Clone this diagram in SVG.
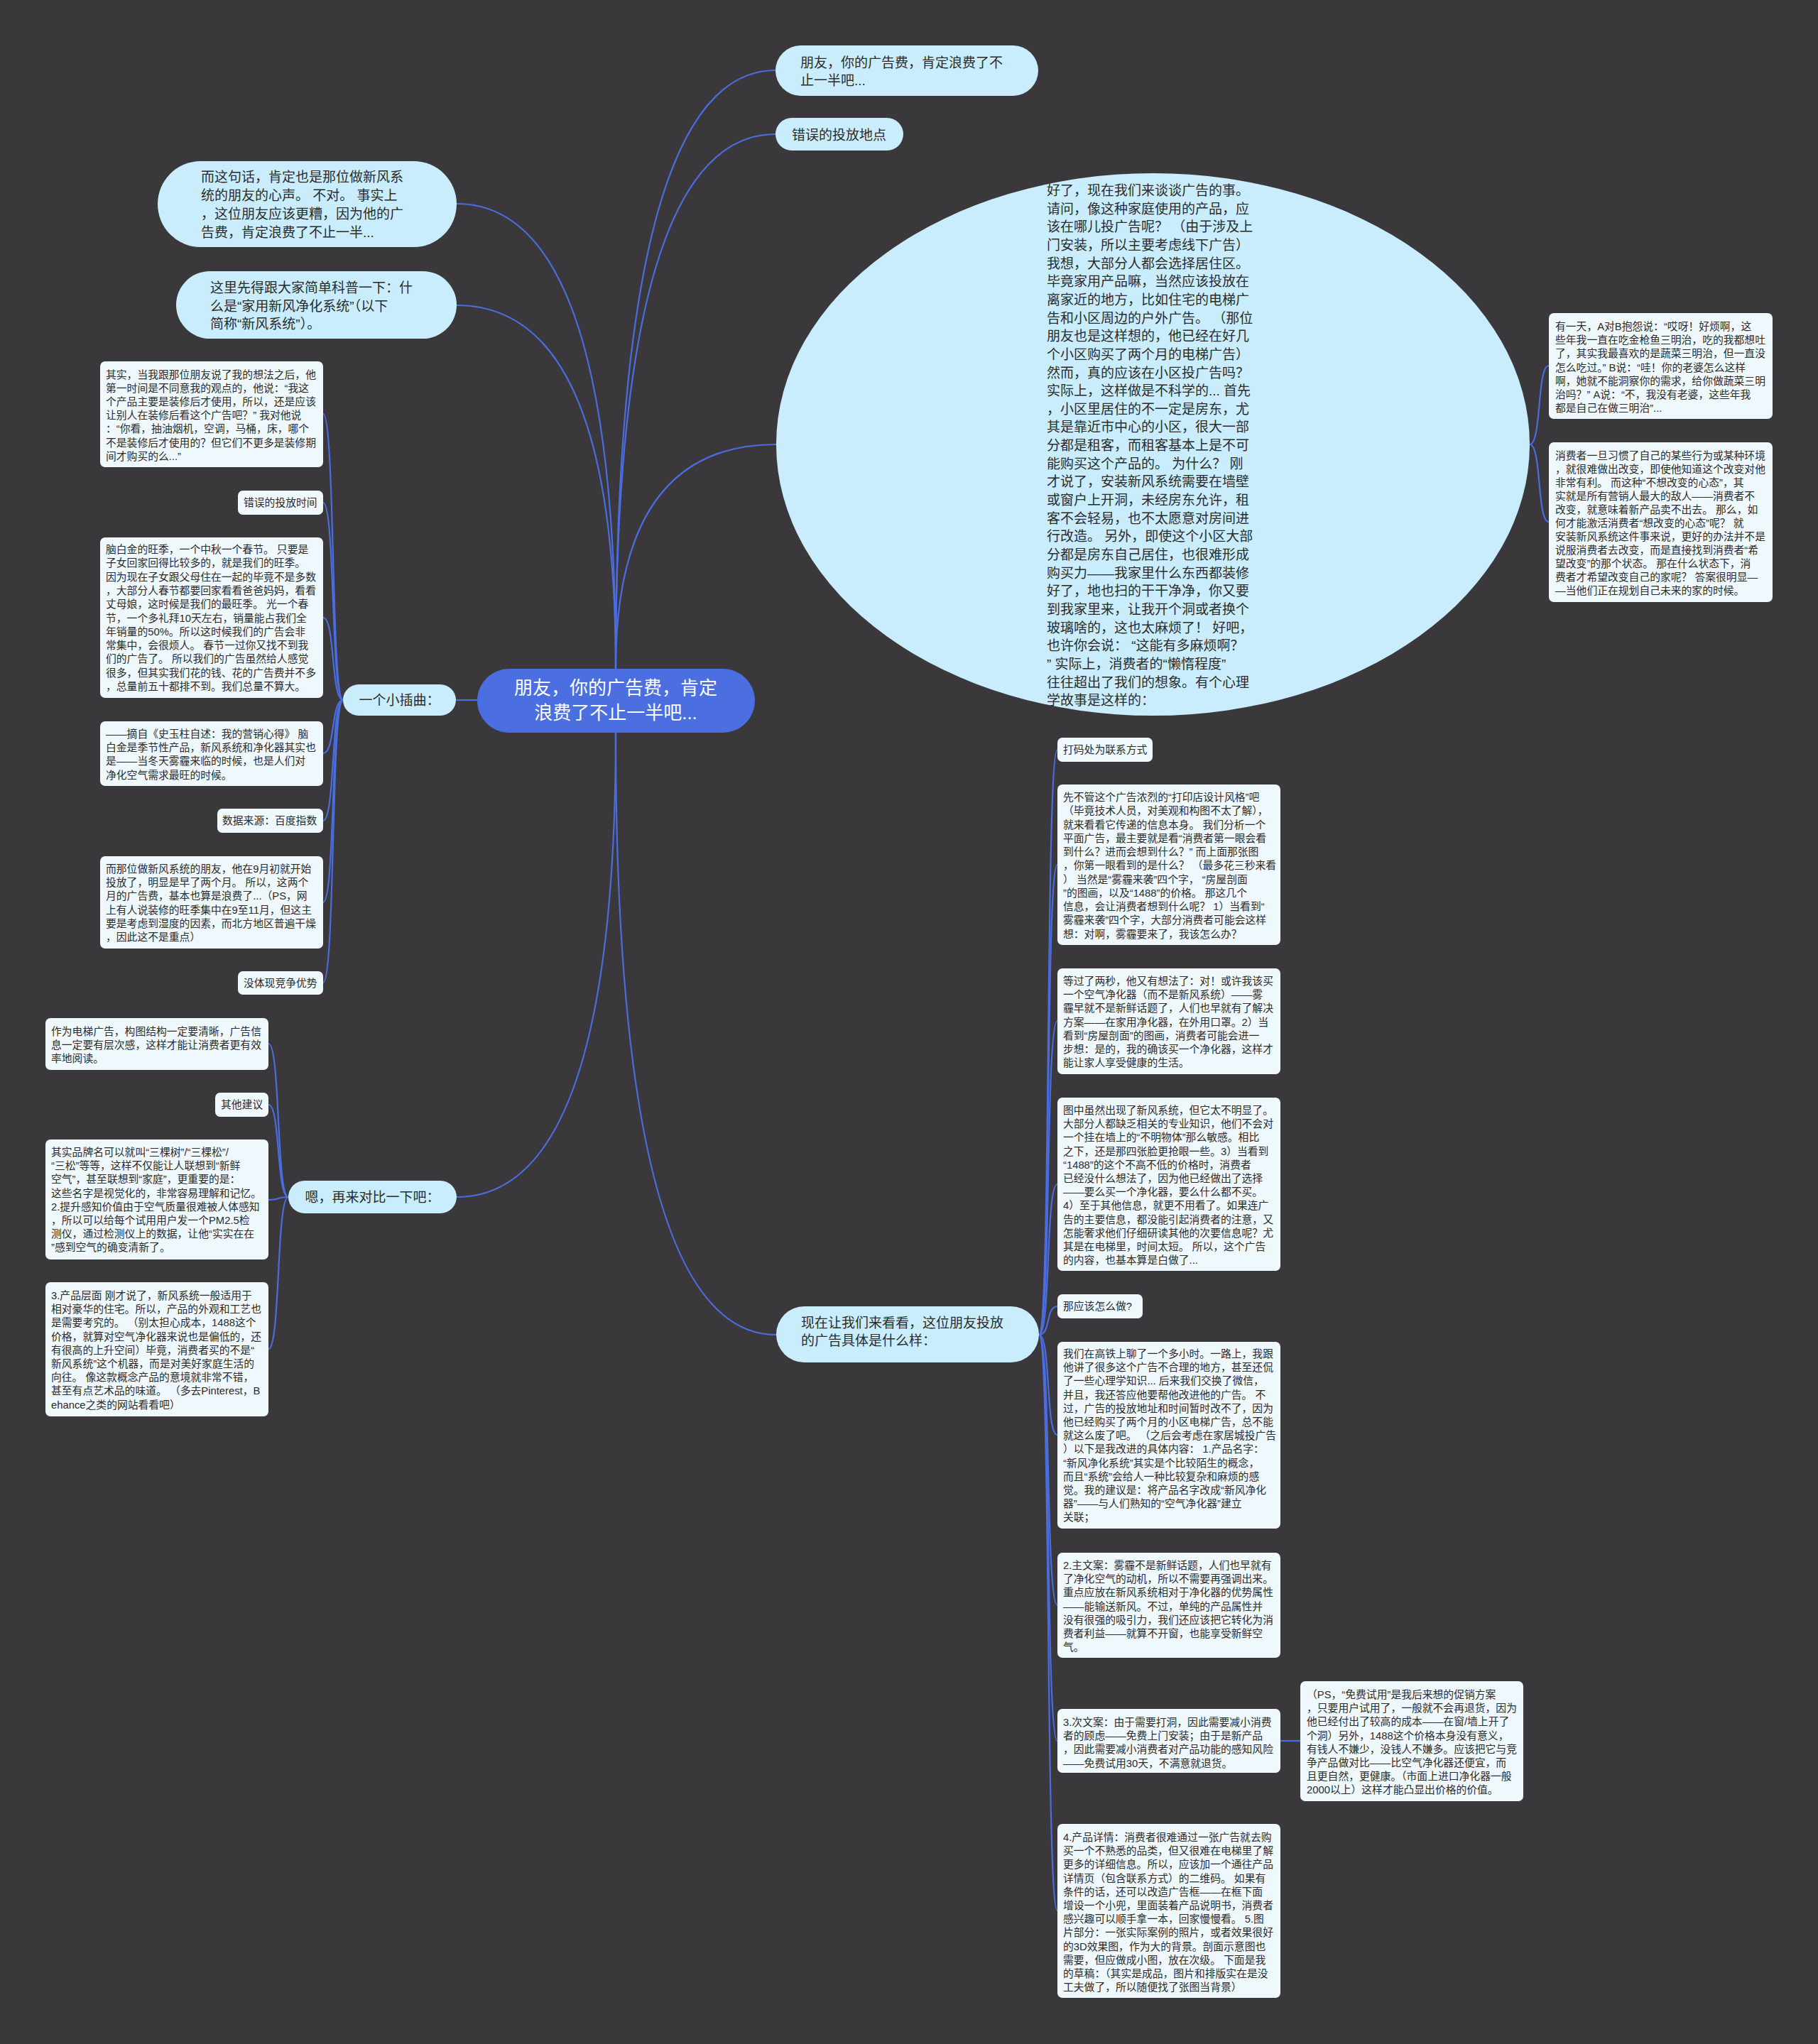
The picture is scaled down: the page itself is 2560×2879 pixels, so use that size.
<svg xmlns="http://www.w3.org/2000/svg" width="2560" height="2879" viewBox="0 0 2560 2879">
<style>
.ln{fill:none;stroke:#4a6de0;stroke-width:2.2}
.cn{fill:#4b6ee0}
.t1{fill:#c9edfc}
.sm{fill:#eff8fd}
text{font-family:"Liberation Sans","Noto Sans CJK SC",sans-serif;fill:#2b2b2b}
.ct{font-size:26px;fill:#ffffff;text-anchor:middle}
.tt{font-size:19px}
.st{font-size:14.8px}
</style>
<rect x="0" y="0" width="2560" height="2879" fill="#3a383a"/>
<g id="connectors">
<path class="ln" d="M867 942 Q867 99 1092 99"/>
<path class="ln" d="M867 942 Q867 189 1092 189"/>
<path class="ln" d="M867 942 Q867 287 643 287"/>
<path class="ln" d="M867 942 Q867 430 643 430"/>
<path class="ln" d="M867 942 Q867 626 1093 626"/>
<path class="ln" d="M867 1032 Q867 1686 643 1686"/>
<path class="ln" d="M867 1032 Q867 1880 1093 1880"/>
<path class="ln" d="M672 986 L642 986"/>
<path class="ln" d="M483 986 C466 986 472 583 455 583"/>
<path class="ln" d="M483 986 C466 986 472 708 455 708"/>
<path class="ln" d="M483 986 C466 986 472 870 455 870"/>
<path class="ln" d="M483 986 C466 986 472 1061 455 1061"/>
<path class="ln" d="M483 986 C466 986 472 1156 455 1156"/>
<path class="ln" d="M483 986 C466 986 472 1271 455 1271"/>
<path class="ln" d="M483 986 C466 986 472 1384 455 1384"/>
<path class="ln" d="M406 1686 C389 1686 395 1470 378 1470"/>
<path class="ln" d="M406 1686 C389 1686 395 1556 378 1556"/>
<path class="ln" d="M406 1686 C389 1686 395 1690 378 1690"/>
<path class="ln" d="M406 1686 C389 1686 395 1900 378 1900"/>
<path class="ln" d="M1463 1880 C1480 1880 1472 1056 1489 1056"/>
<path class="ln" d="M1463 1880 C1480 1880 1472 1218 1489 1218"/>
<path class="ln" d="M1463 1880 C1480 1880 1472 1438 1489 1438"/>
<path class="ln" d="M1463 1880 C1480 1880 1472 1668 1489 1668"/>
<path class="ln" d="M1463 1880 C1480 1880 1472 1840 1489 1840"/>
<path class="ln" d="M1463 1880 C1480 1880 1472 2021 1489 2021"/>
<path class="ln" d="M1463 1880 C1480 1880 1472 2261 1489 2261"/>
<path class="ln" d="M1463 1880 C1480 1880 1472 2452 1489 2452"/>
<path class="ln" d="M1463 1880 C1480 1880 1472 2691 1489 2691"/>
<path class="ln" d="M2154 626 C2171 626 2164 515 2181 515"/>
<path class="ln" d="M2154 626 C2171 626 2164 735 2181 735"/>
<path class="ln" d="M1803 2452 L1831 2452"/>
</g>

<g id="root">
<rect class="cn" x="672" y="942" width="391" height="90" rx="45"/>
<text class="ct"><tspan x="867" y="978">朋友，你的广告费，肯定</tspan><tspan x="867" y="1013">浪费了不止一半吧...</tspan></text>
</g>

<g id="n-top1">
<rect class="t1" x="1092" y="64" width="370" height="71" rx="35.5"/>
<text class="tt"><tspan x="1127" y="95">朋友，你的广告费，肯定浪费了不</tspan><tspan x="1127" y="120">止一半吧...</tspan></text>
</g>
<g id="n-top2">
<rect class="t1" x="1092" y="166" width="180" height="46" rx="23"/>
<text class="tt" x="1115" y="197">错误的投放地点</text>
</g>
<g id="n-left1">
<rect class="t1" x="222" y="227" width="421" height="121" rx="60.5"/>
<text class="tt"><tspan x="283" y="256">而这句话，肯定也是那位做新风系</tspan><tspan x="283" y="282">统的朋友的心声。 不对。 事实上</tspan><tspan x="283" y="308">，这位朋友应该更糟，因为他的广</tspan><tspan x="283" y="334">告费，肯定浪费了不止一半...</tspan></text>
</g>
<g id="n-left2">
<rect class="t1" x="248" y="382" width="395" height="95" rx="47.5"/>
<text class="tt"><tspan x="296" y="412">这里先得跟大家简单科普一下：什</tspan><tspan x="296" y="437.5">么是“家用新风净化系统”（以下</tspan><tspan x="296" y="463">简称“新风系统”）。</tspan></text>
</g>
<g id="n-ellipse">
<ellipse class="t1" cx="1623.5" cy="626" rx="530.5" ry="382"/>
<text class="tt"><tspan x="1474" y="275">好了，现在我们来谈谈广告的事。</tspan><tspan x="1474" dy="25.65">请问，像这种家庭使用的产品，应</tspan><tspan x="1474" dy="25.65">该在哪儿投广告呢？ （由于涉及上</tspan><tspan x="1474" dy="25.65">门安装，所以主要考虑线下广告）</tspan><tspan x="1474" dy="25.65">我想，大部分人都会选择居住区。</tspan><tspan x="1474" dy="25.65">毕竟家用产品嘛，当然应该投放在</tspan><tspan x="1474" dy="25.65">离家近的地方，比如住宅的电梯广</tspan><tspan x="1474" dy="25.65">告和小区周边的户外广告。 （那位</tspan><tspan x="1474" dy="25.65">朋友也是这样想的，他已经在好几</tspan><tspan x="1474" dy="25.65">个小区购买了两个月的电梯广告）</tspan><tspan x="1474" dy="25.65">然而，真的应该在小区投广告吗？</tspan><tspan x="1474" dy="25.65">实际上，这样做是不科学的... 首先</tspan><tspan x="1474" dy="25.65">，小区里居住的不一定是房东，尤</tspan><tspan x="1474" dy="25.65">其是靠近市中心的小区，很大一部</tspan><tspan x="1474" dy="25.65">分都是租客，而租客基本上是不可</tspan><tspan x="1474" dy="25.65">能购买这个产品的。 为什么？ 刚</tspan><tspan x="1474" dy="25.65">才说了，安装新风系统需要在墙壁</tspan><tspan x="1474" dy="25.65">或窗户上开洞，未经房东允许，租</tspan><tspan x="1474" dy="25.65">客不会轻易，也不太愿意对房间进</tspan><tspan x="1474" dy="25.65">行改造。 另外，即使这个小区大部</tspan><tspan x="1474" dy="25.65">分都是房东自己居住，也很难形成</tspan><tspan x="1474" dy="25.65">购买力——我家里什么东西都装修</tspan><tspan x="1474" dy="25.65">好了，地也扫的干干净净，你又要</tspan><tspan x="1474" dy="25.65">到我家里来，让我开个洞或者换个</tspan><tspan x="1474" dy="25.65">玻璃啥的，这也太麻烦了！ 好吧，</tspan><tspan x="1474" dy="25.65">也许你会说： “这能有多麻烦啊？</tspan><tspan x="1474" dy="25.65">” 实际上，消费者的“懒惰程度”</tspan><tspan x="1474" dy="25.65">往往超出了我们的想象。有个心理</tspan><tspan x="1474" dy="25.65">学故事是这样的：</tspan></text>
</g>
<g id="n-story">
<rect class="sm" x="2181" y="441" width="315" height="149" rx="7"/>
<text class="st"><tspan x="2190" y="465">有一天，A对B抱怨说：“哎呀！好烦啊，这</tspan><tspan x="2190" dy="19.2">些年我一直在吃金枪鱼三明治，吃的我都想吐</tspan><tspan x="2190" dy="19.2">了，其实我最喜欢的是蔬菜三明治，但一直没</tspan><tspan x="2190" dy="19.2">怎么吃过。” B说：“哇！你的老婆怎么这样</tspan><tspan x="2190" dy="19.2">啊，她就不能洞察你的需求，给你做蔬菜三明</tspan><tspan x="2190" dy="19.2">治吗？” A说：“不，我没有老婆，这些年我</tspan><tspan x="2190" dy="19.2">都是自己在做三明治”...</tspan></text>
</g>
<g id="n-habit">
<rect class="sm" x="2181" y="623" width="315" height="225" rx="7"/>
<text class="st"><tspan x="2190" y="647">消费者一旦习惯了自己的某些行为或某种环境</tspan><tspan x="2190" dy="19">，就很难做出改变，即使他知道这个改变对他</tspan><tspan x="2190" dy="19">非常有利。 而这种“不想改变的心态”，其</tspan><tspan x="2190" dy="19">实就是所有营销人最大的敌人——消费者不</tspan><tspan x="2190" dy="19">改变，就意味着新产品卖不出去。 那么，如</tspan><tspan x="2190" dy="19">何才能激活消费者“想改变的心态”呢？ 就</tspan><tspan x="2190" dy="19">安装新风系统这件事来说，更好的办法并不是</tspan><tspan x="2190" dy="19">说服消费者去改变，而是直接找到消费者“希</tspan><tspan x="2190" dy="19">望改变”的那个状态。 那在什么状态下，消</tspan><tspan x="2190" dy="19">费者才希望改变自己的家呢？ 答案很明显—</tspan><tspan x="2190" dy="19">—当他们正在规划自己未来的家的时候。</tspan></text>
</g>

<g id="n-episode">
<rect class="t1" x="483" y="964" width="159" height="44" rx="22"/>
<text class="tt" x="562.5" y="993" text-anchor="middle">一个小插曲：</text>
</g>
<g id="n-L1">
<rect class="sm" x="141" y="509" width="314" height="149" rx="7"/>
<text class="st"><tspan x="149" y="533">其实，当我跟那位朋友说了我的想法之后，他</tspan><tspan x="149" dy="19.1">第一时间是不同意我的观点的，他说：“我这</tspan><tspan x="149" dy="19.1">个产品主要是装修后才使用，所以，还是应该</tspan><tspan x="149" dy="19.1">让别人在装修后看这个广告吧？” 我对他说</tspan><tspan x="149" dy="19.1">：“你看，抽油烟机，空调，马桶，床，哪个</tspan><tspan x="149" dy="19.1">不是装修后才使用的？但它们不更多是装修期</tspan><tspan x="149" dy="19.1">间才购买的么...”</tspan></text>
</g>
<g id="n-L2">
<rect class="sm" x="335" y="691" width="120" height="34" rx="7"/>
<text class="st" x="343" y="713">错误的投放时间</text>
</g>
<g id="n-L3">
<rect class="sm" x="141" y="757" width="314" height="226" rx="7"/>
<text class="st"><tspan x="149" y="779">脑白金的旺季，一个中秋一个春节。 只要是</tspan><tspan x="149" dy="19.3">子女回家回得比较多的，就是我们的旺季。</tspan><tspan x="149" dy="19.3">因为现在子女跟父母住在一起的毕竟不是多数</tspan><tspan x="149" dy="19.3">，大部分人春节都要回家看看爸爸妈妈，看看</tspan><tspan x="149" dy="19.3">丈母娘，这时候是我们的最旺季。 光一个春</tspan><tspan x="149" dy="19.3">节，一个多礼拜10天左右，销量能占我们全</tspan><tspan x="149" dy="19.3">年销量的50%。所以这时候我们的广告会非</tspan><tspan x="149" dy="19.3">常集中，会很烦人。 春节一过你又找不到我</tspan><tspan x="149" dy="19.3">们的广告了。 所以我们的广告虽然给人感觉</tspan><tspan x="149" dy="19.3">很多，但其实我们花的钱、花的广告费并不多</tspan><tspan x="149" dy="19.3">，总量前五十都排不到。我们总量不算大。</tspan></text>
</g>
<g id="n-L4">
<rect class="sm" x="141" y="1016" width="314" height="91" rx="7"/>
<text class="st"><tspan x="149" y="1039">——摘自《史玉柱自述：我的营销心得》 脑</tspan><tspan x="149" dy="19.2">白金是季节性产品，新风系统和净化器其实也</tspan><tspan x="149" dy="19.2">是——当冬天雾霾来临的时候，也是人们对</tspan><tspan x="149" dy="19.2">净化空气需求最旺的时候。</tspan></text>
</g>
<g id="n-L5">
<rect class="sm" x="306" y="1139" width="149" height="34" rx="7"/>
<text class="st" x="313" y="1161">数据来源：百度指数</text>
</g>
<g id="n-L6">
<rect class="sm" x="141" y="1206" width="314" height="130" rx="7"/>
<text class="st"><tspan x="149" y="1229">而那位做新风系统的朋友，他在9月初就开始</tspan><tspan x="149" dy="19.2">投放了，明显是早了两个月。 所以，这两个</tspan><tspan x="149" dy="19.2">月的广告费，基本也算是浪费了...（PS，网</tspan><tspan x="149" dy="19.2">上有人说装修的旺季集中在9至11月，但这主</tspan><tspan x="149" dy="19.2">要是考虑到湿度的因素，而北方地区普遍干燥</tspan><tspan x="149" dy="19.2">，因此这不是重点）</tspan></text>
</g>
<g id="n-L7">
<rect class="sm" x="335" y="1368" width="120" height="33" rx="7"/>
<text class="st" x="343" y="1390">没体现竞争优势</text>
</g>

<g id="n-compare">
<rect class="t1" x="406" y="1663" width="237" height="46" rx="23"/>
<text class="tt" x="524.5" y="1693" text-anchor="middle">嗯，再来对比一下吧：</text>
</g>
<g id="n-M1">
<rect class="sm" x="64" y="1434" width="314" height="73" rx="7"/>
<text class="st"><tspan x="72" y="1458">作为电梯广告，构图结构一定要清晰，广告信</tspan><tspan x="72" dy="19.2">息一定要有层次感，这样才能让消费者更有效</tspan><tspan x="72" dy="19.2">率地阅读。</tspan></text>
</g>
<g id="n-M2">
<rect class="sm" x="303" y="1539" width="75" height="34" rx="7"/>
<text class="st" x="311" y="1561">其他建议</text>
</g>
<g id="n-M3">
<rect class="sm" x="64" y="1605" width="314" height="169" rx="7"/>
<text class="st"><tspan x="72" y="1628">其实品牌名可以就叫“三棵树”/“三棵松”/</tspan><tspan x="72" dy="19.2">“三松”等等，这样不仅能让人联想到“新鲜</tspan><tspan x="72" dy="19.2">空气”，甚至联想到“家庭”，更重要的是：</tspan><tspan x="72" dy="19.2">这些名字是视觉化的，非常容易理解和记忆。</tspan><tspan x="72" dy="19.2">2.提升感知价值由于空气质量很难被人体感知</tspan><tspan x="72" dy="19.2">，所以可以给每个试用用户发一个PM2.5检</tspan><tspan x="72" dy="19.2">测仪，通过检测仪上的数据，让他“实实在在</tspan><tspan x="72" dy="19.2">”感到空气的确变清新了。</tspan></text>
</g>
<g id="n-M4">
<rect class="sm" x="64" y="1806" width="314" height="189" rx="7"/>
<text class="st"><tspan x="72" y="1830">3.产品层面 刚才说了，新风系统一般适用于</tspan><tspan x="72" dy="19.2">相对豪华的住宅。所以，产品的外观和工艺也</tspan><tspan x="72" dy="19.2">是需要考究的。 （别太担心成本，1488这个</tspan><tspan x="72" dy="19.2">价格，就算对空气净化器来说也是偏低的，还</tspan><tspan x="72" dy="19.2">有很高的上升空间）毕竟，消费者买的不是“</tspan><tspan x="72" dy="19.2">新风系统”这个机器，而是对美好家庭生活的</tspan><tspan x="72" dy="19.2">向往。 像这款概念产品的意境就非常不错，</tspan><tspan x="72" dy="19.2">甚至有点艺术品的味道。 （多去Pinterest，B</tspan><tspan x="72" dy="19.2">ehance之类的网站看看吧）</tspan></text>
</g>

<g id="n-lookad">
<rect class="t1" x="1093" y="1840" width="370" height="79" rx="39.5"/>
<text class="tt"><tspan x="1128" y="1870">现在让我们来看看，这位朋友投放</tspan><tspan x="1128" y="1895">的广告具体是什么样：</tspan></text>
</g>
<g id="n-R1">
<rect class="sm" x="1489" y="1039" width="134" height="34" rx="7"/>
<text class="st" x="1497" y="1061">打码处为联系方式</text>
</g>
<g id="n-R2">
<rect class="sm" x="1489" y="1105" width="314" height="226" rx="7"/>
<text class="st"><tspan x="1497" y="1128">先不管这个广告浓烈的“打印店设计风格”吧</tspan><tspan x="1497" dy="19.25">（毕竟技术人员，对美观和构图不太了解），</tspan><tspan x="1497" dy="19.25">就来看看它传递的信息本身。 我们分析一个</tspan><tspan x="1497" dy="19.25">平面广告，最主要就是看“消费者第一眼会看</tspan><tspan x="1497" dy="19.25">到什么？进而会想到什么？” 而上面那张图</tspan><tspan x="1497" dy="19.25">，你第一眼看到的是什么？ （最多花三秒来看</tspan><tspan x="1497" dy="19.25">） 当然是“雾霾来袭”四个字， “房屋剖面</tspan><tspan x="1497" dy="19.25">”的图画，以及“1488”的价格。 那这几个</tspan><tspan x="1497" dy="19.25">信息，会让消费者想到什么呢？ 1）当看到“</tspan><tspan x="1497" dy="19.25">雾霾来袭”四个字，大部分消费者可能会这样</tspan><tspan x="1497" dy="19.25">想：对啊，雾霾要来了，我该怎么办？</tspan></text>
</g>
<g id="n-R3">
<rect class="sm" x="1489" y="1364" width="314" height="149" rx="7"/>
<text class="st"><tspan x="1497" y="1387">等过了两秒，他又有想法了：对！或许我该买</tspan><tspan x="1497" dy="19.2">一个空气净化器（而不是新风系统）——雾</tspan><tspan x="1497" dy="19.2">霾早就不是新鲜话题了，人们也早就有了解决</tspan><tspan x="1497" dy="19.2">方案——在家用净化器，在外用口罩。2）当</tspan><tspan x="1497" dy="19.2">看到“房屋剖面”的图画，消费者可能会进一</tspan><tspan x="1497" dy="19.2">步想：是的，我的确该买一个净化器，这样才</tspan><tspan x="1497" dy="19.2">能让家人享受健康的生活。</tspan></text>
</g>
<g id="n-R4">
<rect class="sm" x="1489" y="1546" width="314" height="244" rx="7"/>
<text class="st"><tspan x="1497" y="1569">图中虽然出现了新风系统，但它太不明显了。</tspan><tspan x="1497" dy="19.2">大部分人都缺乏相关的专业知识，他们不会对</tspan><tspan x="1497" dy="19.2">一个挂在墙上的“不明物体”那么敏感。相比</tspan><tspan x="1497" dy="19.2">之下，还是那四张脸更抢眼一些。3）当看到</tspan><tspan x="1497" dy="19.2">“1488”的这个不高不低的价格时，消费者</tspan><tspan x="1497" dy="19.2">已经没什么想法了，因为他已经做出了选择</tspan><tspan x="1497" dy="19.2">——要么买一个净化器，要么什么都不买。</tspan><tspan x="1497" dy="19.2">4）至于其他信息，就更不用看了。如果连广</tspan><tspan x="1497" dy="19.2">告的主要信息，都没能引起消费者的注意，又</tspan><tspan x="1497" dy="19.2">怎能奢求他们仔细研读其他的次要信息呢？尤</tspan><tspan x="1497" dy="19.2">其是在电梯里，时间太短。 所以，这个广告</tspan><tspan x="1497" dy="19.2">的内容，也基本算是白做了...</tspan></text>
</g>
<g id="n-R5">
<rect class="sm" x="1489" y="1823" width="120" height="34" rx="7"/>
<text class="st" x="1497" y="1845">那应该怎么做?</text>
</g>
<g id="n-R6">
<rect class="sm" x="1489" y="1890" width="314" height="263" rx="7"/>
<text class="st"><tspan x="1497" y="1912">我们在高铁上聊了一个多小时。一路上，我跟</tspan><tspan x="1497" dy="19.2">他讲了很多这个广告不合理的地方，甚至还侃</tspan><tspan x="1497" dy="19.2">了一些心理学知识... 后来我们交换了微信，</tspan><tspan x="1497" dy="19.2">并且，我还答应他要帮他改进他的广告。 不</tspan><tspan x="1497" dy="19.2">过，广告的投放地址和时间暂时改不了，因为</tspan><tspan x="1497" dy="19.2">他已经购买了两个月的小区电梯广告，总不能</tspan><tspan x="1497" dy="19.2">就这么废了吧。 （之后会考虑在家居城投广告</tspan><tspan x="1497" dy="19.2">）以下是我改进的具体内容： 1.产品名字：</tspan><tspan x="1497" dy="19.2">“新风净化系统”其实是个比较陌生的概念，</tspan><tspan x="1497" dy="19.2">而且“系统”会给人一种比较复杂和麻烦的感</tspan><tspan x="1497" dy="19.2">觉。我的建议是：将产品名字改成“新风净化</tspan><tspan x="1497" dy="19.2">器”——与人们熟知的“空气净化器”建立</tspan><tspan x="1497" dy="19.2">关联；</tspan></text>
</g>
<g id="n-R7">
<rect class="sm" x="1489" y="2187" width="314" height="148" rx="7"/>
<text class="st"><tspan x="1497" y="2210">2.主文案：雾霾不是新鲜话题，人们也早就有</tspan><tspan x="1497" dy="19.2">了净化空气的动机，所以不需要再强调出来。</tspan><tspan x="1497" dy="19.2">重点应放在新风系统相对于净化器的优势属性</tspan><tspan x="1497" dy="19.2">——能输送新风。不过，单纯的产品属性并</tspan><tspan x="1497" dy="19.2">没有很强的吸引力，我们还应该把它转化为消</tspan><tspan x="1497" dy="19.2">费者利益——就算不开窗，也能享受新鲜空</tspan><tspan x="1497" dy="19.2">气。</tspan></text>
</g>
<g id="n-R8">
<rect class="sm" x="1489" y="2407" width="314" height="90" rx="7"/>
<text class="st"><tspan x="1497" y="2431">3.次文案：由于需要打洞，因此需要减小消费</tspan><tspan x="1497" dy="19.2">者的顾虑——免费上门安装；由于是新产品</tspan><tspan x="1497" dy="19.2">，因此需要减小消费者对产品功能的感知风险</tspan><tspan x="1497" dy="19.2">——免费试用30天，不满意就退货。</tspan></text>
</g>
<g id="n-R9">
<rect class="sm" x="1489" y="2569" width="314" height="245" rx="7"/>
<text class="st"><tspan x="1497" y="2593">4.产品详情：消费者很难通过一张广告就去购</tspan><tspan x="1497" dy="19.2">买一个不熟悉的品类，但又很难在电梯里了解</tspan><tspan x="1497" dy="19.2">更多的详细信息。所以，应该加一个通往产品</tspan><tspan x="1497" dy="19.2">详情页（包含联系方式）的二维码。 如果有</tspan><tspan x="1497" dy="19.2">条件的话，还可以改造广告框——在框下面</tspan><tspan x="1497" dy="19.2">增设一个小兜，里面装着产品说明书，消费者</tspan><tspan x="1497" dy="19.2">感兴趣可以顺手拿一本，回家慢慢看。 5.图</tspan><tspan x="1497" dy="19.2">片部分：一张实际案例的照片，或者效果很好</tspan><tspan x="1497" dy="19.2">的3D效果图，作为大的背景。剖面示意图也</tspan><tspan x="1497" dy="19.2">需要，但应做成小图，放在次级。 下面是我</tspan><tspan x="1497" dy="19.2">的草稿：（其实是成品，图片和排版实在是没</tspan><tspan x="1497" dy="19.2">工夫做了，所以随便找了张图当背景）</tspan></text>
</g>
<g id="n-PS">
<rect class="sm" x="1831" y="2368" width="314" height="169" rx="7"/>
<text class="st"><tspan x="1840" y="2392">（PS，“免费试用”是我后来想的促销方案</tspan><tspan x="1840" dy="19.2">，只要用户试用了，一般就不会再退货，因为</tspan><tspan x="1840" dy="19.2">他已经付出了较高的成本——在窗/墙上开了</tspan><tspan x="1840" dy="19.2">个洞）另外，1488这个价格本身没有意义，</tspan><tspan x="1840" dy="19.2">有钱人不嫌少，没钱人不嫌多。应该把它与竞</tspan><tspan x="1840" dy="19.2">争产品做对比——比空气净化器还便宜，而</tspan><tspan x="1840" dy="19.2">且更自然，更健康。（市面上进口净化器一般</tspan><tspan x="1840" dy="19.2">2000以上）这样才能凸显出价格的价值。</tspan></text>
</g>
</svg>
